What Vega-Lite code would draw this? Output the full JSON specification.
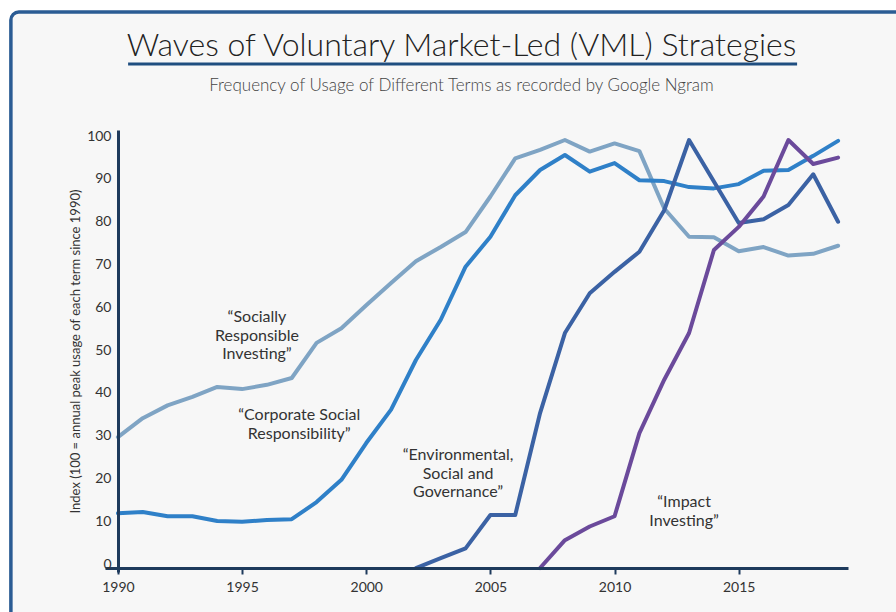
{
  "$schema": "https://vega.github.io/schema/vega-lite/v6.json",
  "width": 743,
  "height": 442,
  "autosize": {"type": "none"},
  "padding": {"left": 105, "top": 130, "right": 48, "bottom": 40},
  "background": "#ffffff",
  "config": {"view": {"stroke": null}, "font": "Lato"},
  "title": {
    "text": "Waves of Voluntary Market-Led (VML) Strategies",
    "subtitle": "Frequency of Usage of Different Terms as recorded by Google Ngram",
    "anchor": "middle",
    "frame": "group",
    "dx": -15,
    "font": "Lato",
    "fontSize": 32,
    "fontWeight": 300,
    "color": "#222222",
    "subtitleFont": "Lato",
    "subtitleFontSize": 17,
    "subtitleFontWeight": 300,
    "subtitleColor": "#444444",
    "subtitlePadding": 15,
    "offset": -85
  },
  "layer": [
    {
      "data": {"values": [{}]},
      "mark": {"type": "rect", "fill": "#F7F7F7", "stroke": "#2B5C94", "strokeWidth": 3.5, "cornerRadius": 8},
      "encoding": {
        "x": {"datum": 1985.69, "type": "quantitative"},
        "x2": {"datum": 2022.5},
        "y": {"datum": 129.9, "type": "quantitative"},
        "y2": {"datum": -15}
      }
    },
    {
      "data": {"values": [{}]},
      "mark": {"type": "rule", "color": "#1F4E80", "strokeWidth": 3},
      "encoding": {
        "x": {"datum": 1990.41, "type": "quantitative"},
        "x2": {"datum": 2017.35},
        "y": {"datum": 117.76, "type": "quantitative"}
      }
    },
    {
      "data": {
        "values": [
          {"term": "Socially Responsible Investing", "year": 1990, "value": 30.6},
          {"term": "Socially Responsible Investing", "year": 1991, "value": 35},
          {"term": "Socially Responsible Investing", "year": 1992, "value": 38},
          {"term": "Socially Responsible Investing", "year": 1993, "value": 40},
          {"term": "Socially Responsible Investing", "year": 1994, "value": 42.3},
          {"term": "Socially Responsible Investing", "year": 1995, "value": 41.8},
          {"term": "Socially Responsible Investing", "year": 1996, "value": 42.8},
          {"term": "Socially Responsible Investing", "year": 1997, "value": 44.4},
          {"term": "Socially Responsible Investing", "year": 1998, "value": 52.6},
          {"term": "Socially Responsible Investing", "year": 1999, "value": 56},
          {"term": "Socially Responsible Investing", "year": 2000, "value": 61.4},
          {"term": "Socially Responsible Investing", "year": 2001, "value": 66.6},
          {"term": "Socially Responsible Investing", "year": 2002, "value": 71.7},
          {"term": "Socially Responsible Investing", "year": 2003, "value": 75},
          {"term": "Socially Responsible Investing", "year": 2004, "value": 78.5},
          {"term": "Socially Responsible Investing", "year": 2005, "value": 86.8},
          {"term": "Socially Responsible Investing", "year": 2006, "value": 95.7},
          {"term": "Socially Responsible Investing", "year": 2007, "value": 97.7},
          {"term": "Socially Responsible Investing", "year": 2008, "value": 100},
          {"term": "Socially Responsible Investing", "year": 2009, "value": 97.3},
          {"term": "Socially Responsible Investing", "year": 2010, "value": 99.2},
          {"term": "Socially Responsible Investing", "year": 2011, "value": 97.4},
          {"term": "Socially Responsible Investing", "year": 2012, "value": 84},
          {"term": "Socially Responsible Investing", "year": 2013, "value": 77.4},
          {"term": "Socially Responsible Investing", "year": 2014, "value": 77.3},
          {"term": "Socially Responsible Investing", "year": 2015, "value": 74},
          {"term": "Socially Responsible Investing", "year": 2016, "value": 75},
          {"term": "Socially Responsible Investing", "year": 2017, "value": 73},
          {"term": "Socially Responsible Investing", "year": 2018, "value": 73.4},
          {"term": "Socially Responsible Investing", "year": 2019, "value": 75.3},
          {"term": "Corporate Social Responsibility", "year": 1990, "value": 12.8},
          {"term": "Corporate Social Responsibility", "year": 1991, "value": 13.1},
          {"term": "Corporate Social Responsibility", "year": 1992, "value": 12.1},
          {"term": "Corporate Social Responsibility", "year": 1993, "value": 12.1},
          {"term": "Corporate Social Responsibility", "year": 1994, "value": 11},
          {"term": "Corporate Social Responsibility", "year": 1995, "value": 10.8},
          {"term": "Corporate Social Responsibility", "year": 1996, "value": 11.2},
          {"term": "Corporate Social Responsibility", "year": 1997, "value": 11.4},
          {"term": "Corporate Social Responsibility", "year": 1998, "value": 15.4},
          {"term": "Corporate Social Responsibility", "year": 1999, "value": 20.6},
          {"term": "Corporate Social Responsibility", "year": 2000, "value": 29.2},
          {"term": "Corporate Social Responsibility", "year": 2001, "value": 37},
          {"term": "Corporate Social Responsibility", "year": 2002, "value": 48.6},
          {"term": "Corporate Social Responsibility", "year": 2003, "value": 58},
          {"term": "Corporate Social Responsibility", "year": 2004, "value": 70.4},
          {"term": "Corporate Social Responsibility", "year": 2005, "value": 77.4},
          {"term": "Corporate Social Responsibility", "year": 2006, "value": 87.1},
          {"term": "Corporate Social Responsibility", "year": 2007, "value": 93},
          {"term": "Corporate Social Responsibility", "year": 2008, "value": 96.5},
          {"term": "Corporate Social Responsibility", "year": 2009, "value": 92.6},
          {"term": "Corporate Social Responsibility", "year": 2010, "value": 94.6},
          {"term": "Corporate Social Responsibility", "year": 2011, "value": 90.6},
          {"term": "Corporate Social Responsibility", "year": 2012, "value": 90.4},
          {"term": "Corporate Social Responsibility", "year": 2013, "value": 89},
          {"term": "Corporate Social Responsibility", "year": 2014, "value": 88.7},
          {"term": "Corporate Social Responsibility", "year": 2015, "value": 89.7},
          {"term": "Corporate Social Responsibility", "year": 2016, "value": 92.8},
          {"term": "Corporate Social Responsibility", "year": 2017, "value": 93},
          {"term": "Corporate Social Responsibility", "year": 2018, "value": 96.3},
          {"term": "Corporate Social Responsibility", "year": 2019, "value": 99.8},
          {"term": "Environmental, Social and Governance", "year": 2002, "value": 0},
          {"term": "Environmental, Social and Governance", "year": 2003, "value": 2.3},
          {"term": "Environmental, Social and Governance", "year": 2004, "value": 4.6},
          {"term": "Environmental, Social and Governance", "year": 2005, "value": 12.4},
          {"term": "Environmental, Social and Governance", "year": 2006, "value": 12.4},
          {"term": "Environmental, Social and Governance", "year": 2007, "value": 36.2},
          {"term": "Environmental, Social and Governance", "year": 2008, "value": 54.9},
          {"term": "Environmental, Social and Governance", "year": 2009, "value": 64.2},
          {"term": "Environmental, Social and Governance", "year": 2010, "value": 69.2},
          {"term": "Environmental, Social and Governance", "year": 2011, "value": 73.9},
          {"term": "Environmental, Social and Governance", "year": 2012, "value": 83.6},
          {"term": "Environmental, Social and Governance", "year": 2013, "value": 100},
          {"term": "Environmental, Social and Governance", "year": 2014, "value": 90.3},
          {"term": "Environmental, Social and Governance", "year": 2015, "value": 80.6},
          {"term": "Environmental, Social and Governance", "year": 2016, "value": 81.5},
          {"term": "Environmental, Social and Governance", "year": 2017, "value": 84.8},
          {"term": "Environmental, Social and Governance", "year": 2018, "value": 92},
          {"term": "Environmental, Social and Governance", "year": 2019, "value": 80.9},
          {"term": "Impact Investing", "year": 2007, "value": 0},
          {"term": "Impact Investing", "year": 2008, "value": 6.5},
          {"term": "Impact Investing", "year": 2009, "value": 9.7},
          {"term": "Impact Investing", "year": 2010, "value": 12.1},
          {"term": "Impact Investing", "year": 2011, "value": 31.5},
          {"term": "Impact Investing", "year": 2012, "value": 44},
          {"term": "Impact Investing", "year": 2013, "value": 54.9},
          {"term": "Impact Investing", "year": 2014, "value": 74.3},
          {"term": "Impact Investing", "year": 2015, "value": 79.7},
          {"term": "Impact Investing", "year": 2016, "value": 86.8},
          {"term": "Impact Investing", "year": 2017, "value": 100},
          {"term": "Impact Investing", "year": 2018, "value": 94.4},
          {"term": "Impact Investing", "year": 2019, "value": 95.9}
        ]
      },
      "mark": {"type": "line", "strokeCap": "round", "strokeJoin": "round"},
      "encoding": {
        "x": {
          "field": "year", "type": "quantitative",
          "scale": {"domain": [1989.48, 2019.4], "nice": false, "zero": false},
          "axis": {
            "values": [1990, 1995, 2000, 2005, 2010, 2015],
            "format": "d",
            "offset": -4,
            "zindex": 1,
            "title": null,
            "grid": false,
            "domainColor": "#1E3A5C",
            "domainWidth": 3,
            "tickColor": "#1E3A5C",
            "tickWidth": 2,
            "tickSize": 6,
            "labelFont": "Lato",
            "labelFontSize": 14,
            "labelColor": "#333333",
            "labelPadding": 6
          }
        },
        "y": {
          "field": "value", "type": "quantitative",
          "scale": {"domain": [-0.93, 102.34], "nice": false, "zero": false},
          "axis": {
            "values": [0, 10, 20, 30, 40, 50, 60, 70, 80, 90, 100],
            "offset": -13,
            "zindex": 1,
            "grid": false,
            "ticks": false,
            "domainColor": "#1E3A5C",
            "domainWidth": 3,
            "labelFont": "Lato",
            "labelFontSize": 14,
            "labelColor": "#333333",
            "labelPadding": 7,
            "labelOffset": -4,
            "title": "Index (100 = annual peak usage of each term since 1990)",
            "titleFont": "Lato",
            "titleFontSize": 13,
            "titleFontWeight": "normal",
            "titleColor": "#333333",
            "titlePadding": 4
          }
        },
        "color": {
          "field": "term", "type": "nominal",
          "scale": {
            "domain": ["Socially Responsible Investing", "Corporate Social Responsibility", "Environmental, Social and Governance", "Impact Investing"],
            "range": ["#7FA4C4", "#2F80C8", "#3B62A4", "#6B4A9B"]
          },
          "legend": null
        },
        "strokeWidth": {
          "field": "term", "type": "nominal",
          "scale": {
            "domain": ["Socially Responsible Investing", "Corporate Social Responsibility", "Environmental, Social and Governance", "Impact Investing"],
            "range": [4, 4, 5, 3.5]
          },
          "legend": null
        }
      }
    },
    {
      "data": {
        "values": [
          {"term": "Socially Responsible Investing", "year": 1995.6, "value": 58.6, "label": ["“Socially", "Responsible", "Investing”"]},
          {"term": "Corporate Social Responsibility", "year": 1997.3, "value": 35.7, "label": ["“Corporate Social", "Responsibility”"]},
          {"term": "Environmental, Social and Governance", "year": 2003.7, "value": 26.4, "label": ["“Environmental,", "Social and", "Governance”"]},
          {"term": "Impact Investing", "year": 2012.8, "value": 15.4, "label": ["“Impact", "Investing”"]}
        ]
      },
      "mark": {"type": "text", "align": "center", "baseline": "middle", "font": "Lato", "fontSize": 16, "lineHeight": 18.5, "color": "#333333"},
      "encoding": {
        "x": {"field": "year", "type": "quantitative"},
        "y": {"field": "value", "type": "quantitative"},
        "text": {"field": "label"}
      }
    }
  ]
}
